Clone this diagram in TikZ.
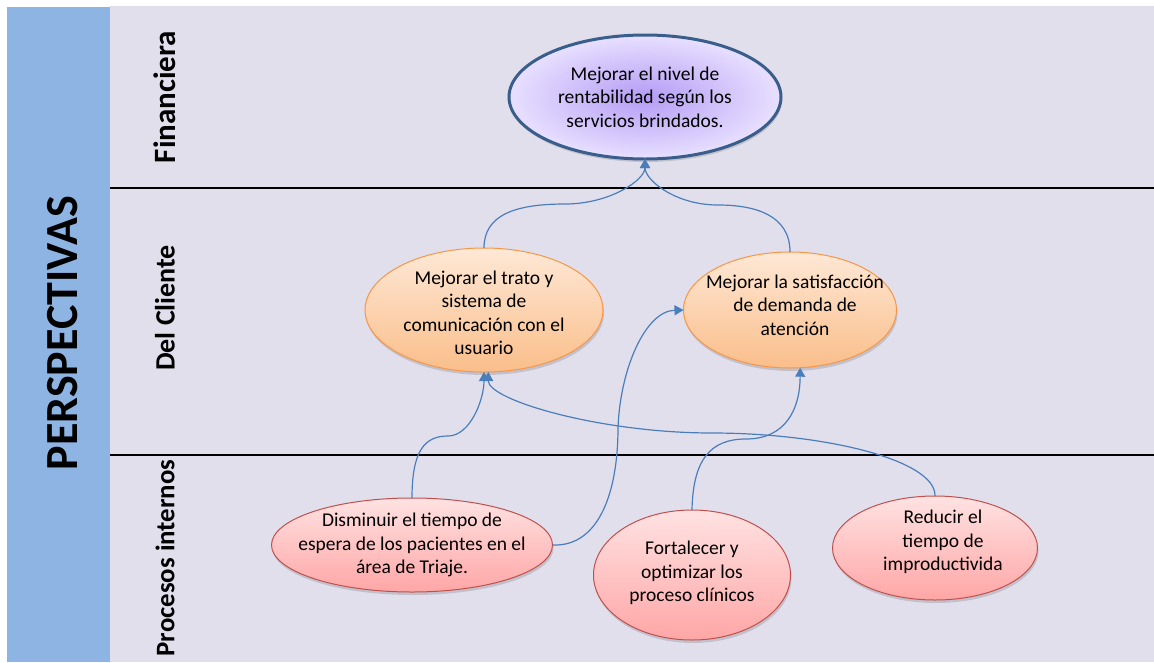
\documentclass[tikz,border=0pt]{standalone}
\usepackage{fontspec}
\setmainfont{Carlito}
\usetikzlibrary{shapes.geometric,arrows.meta,shadows}
\definecolor{bandblue}{HTML}{8EB4E3}
\definecolor{lav}{HTML}{E2DFED}
\definecolor{conncol}{HTML}{4A7EBB}
\definecolor{topborder}{HTML}{3A5E8C}
\definecolor{orangeb}{HTML}{F79646}
\definecolor{redb}{HTML}{C0504D}
\tikzset{
  ellbase/.style={ellipse, inner sep=0pt, outer sep=0pt,
    drop shadow={shadow xshift=1pt, shadow yshift=-3pt, opacity=0.25, fill=black!60}},
  topell/.style={ellbase, draw=topborder, line width=3pt, shading=radial,
    inner color={rgb,255:red,180;green,156;blue,245}, outer color={rgb,255:red,232;green,224;blue,255}},
  orell/.style={ellbase, draw=orangeb, line width=1pt,
    top color={rgb,255:red,254;green,232;blue,214}, bottom color={rgb,255:red,250;green,190;blue,138}},
  redell/.style={ellbase, draw=redb, line width=1pt,
    top color={rgb,255:red,255;green,226;blue,226}, bottom color={rgb,255:red,255;green,166;blue,166}},
  etext/.style={align=center, inner sep=0pt, font=\fontsize{19.5}{23.5}\selectfont},
  rowlabel/.style={rotate=90, inner sep=0pt},
  conn/.style={draw=conncol, line width=1.2pt, -{Triangle[length=9pt,width=10pt]}},
  sepline/.style={line width=2.4pt, black}
}
\begin{document}
\begin{tikzpicture}[x=1pt,y=-1pt]
\useasboundingbox (0,0) rectangle (1154,662);
\fill[white] (0,0) rectangle (1154,662);
\fill[lav] (110,6) rectangle (1154,662);
\fill[bandblue] (7,7) rectangle (110,662);
\draw[sepline] (110,188) -- (1154,188);
\draw[sepline] (110,455) -- (1154,455);

\node[rotate=90, inner sep=0pt, font=\fontsize{46}{50}\selectfont\bfseries] (persp) at (63,333) {PERSPECTIVAS};
\node[rowlabel, font=\fontsize{31}{34}\selectfont\bfseries] (lfin) at (165,97) {Financiera};
\node[rowlabel, font=\fontsize{28}{32}\selectfont\bfseries] (lcli) at (165,308) {Del Cliente};
\node[rowlabel, font=\fontsize{26.8}{30}\selectfont\bfseries] (lpro) at (165,558) {Procesos internos};

% ellipses
\node[topell, minimum width=272pt, minimum height=124pt] (fin) at (645,97) {};
\node[orell, minimum width=238pt, minimum height=124pt] (c1) at (484,310) {};
\node[orell, minimum width=213pt, minimum height=116pt] (c2) at (790,310) {};
\node[redell, minimum width=281pt, minimum height=94pt] (d) at (412,545) {};
\node[redell, minimum width=197pt, minimum height=130pt] (fo) at (692,575) {};
\node[redell, minimum width=205pt, minimum height=104pt] (r) at (935,548) {};

\node[etext] (fint) at (645,97) {Mejorar el nivel de\\rentabilidad según los\\servicios brindados.};
\node[etext] (c1t) at (484,313) {Mejorar el trato y\\sistema de\\comunicación con el\\usuario};
\node[etext] (c2t) at (795,305) {Mejorar la satisfacción\\de demanda de\\atención};
\node[etext] (dt) at (412,545) {Disminuir el tiempo de\\espera de los pacientes en el\\área de Triaje.};
\node[etext] (fot) at (692,573) {Fortalecer y\\optimizar los\\proceso clínicos};
\node[etext] (rt) at (943,542) {Reducir el\\tiempo de\\improductivida};

% connectors
\draw[conn] (c1.north) .. controls (484,215) and (515,204) .. (565,204) .. controls (610,204) and (645,180) .. (fin.south);
\draw[conn] (c2.north) .. controls (790,215) and (755,205) .. (718,205) .. controls (675,205) and (645,180) .. (fin.south);
\draw[conn] (d.north) .. controls (412,450) and (425,436) .. (448,436) .. controls (470,436) and (484,400) .. (c1.south);
\draw[conn] (r.north) .. controls (936,460) and (824,433) .. (712,433) .. controls (600,433) and (488,400) .. (c1.-86);
\draw[conn] (d.east) .. controls (600,547) and (618,490) .. (618,428) .. controls (620,370) and (645,311) .. (c2.west);
\draw[conn] (fo.north) .. controls (693,460) and (710,439) .. (746,439) .. controls (785,439) and (800,410) .. (c2.-80);
\end{tikzpicture}
\end{document}
